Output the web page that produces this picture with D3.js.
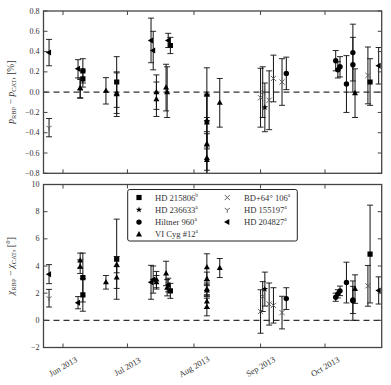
<!DOCTYPE html>
<html>
<head>
<meta charset="utf-8">
<script src="https://cdn.jsdelivr.net/npm/d3@7"></script>
<style>
  body { margin: 0; background: #fff; }
  svg text { font-family: "Liberation Serif", "DejaVu Serif", serif; fill: #333; }
</style>
</head>
<body>
<div id="chart"></div>
<script>
// rows: [date, dp, dp err, dchi, dchi err]
var hd215806 = [
    ["2013-06-10T06:00Z", 0.21, 0.12, 3.15, 1.8],
    ["2013-06-10T06:00Z", 0.13, 0.08, 1.87, 1.2],
    ["2013-06-26T00:00Z", 0.10, 0.25, 4.5, 2.95],
    ["2013-07-21T00:00Z", 0.46, 0.08, 2.17, 0.55],
    ["2013-10-22T00:00Z", 0.10, 0.23, 4.88, 3.6]
];
var hd236633 = [
    ["2013-09-03T00:00Z", -0.15, 0.24, 2.3, 1.25]
];
var hiltner960 = [
    ["2013-09-13T00:00Z", 0.185, 0.16, 1.6, 0.8],
    ["2013-10-06T00:00Z", 0.31, 0.10, 1.7, 0.3],
    ["2013-10-07T00:00Z", 0.22, 0.08, 1.95, 0.3],
    ["2013-10-08T00:00Z", 0.25, 0.10, 2.17, 0.35],
    ["2013-10-11T00:00Z", 0.08, 0.28, 2.78, 1.5],
    ["2013-10-14T00:00Z", 0.39, 0.28, 1.45, 1.45],
    ["2013-10-14T00:00Z", 0.27, 0.27, 1.5, 1.0]
];
var viCyg12 = [
    ["2013-06-09T00:00Z", 0.035, 0.09, 4.4, 0.55],
    ["2013-06-09T00:00Z", 0.04, 0.10, 3.95, 0.5],
    ["2013-06-21T00:00Z", 0.013, 0.13, 2.8, 0.5],
    ["2013-06-26T00:00Z", -0.02, 0.22, 4.1, 0.6],
    ["2013-06-26T00:00Z", -0.01, 0.20, 3.15, 0.8],
    ["2013-07-14T12:00Z", 0.0, 0.17, 3.0, 0.6],
    ["2013-07-14T12:00Z", -0.07, 0.17, 2.8, 0.5],
    ["2013-07-19T00:00Z", 0.045, 0.23, 3.45, 0.9],
    ["2013-07-19T12:00Z", 0.0, 0.25, 2.4, 0.6],
    ["2013-08-07T00:00Z", -0.02, 0.26, 3.9, 1.0],
    ["2013-08-07T00:00Z", -0.28, 0.26, 3.05, 0.5],
    ["2013-08-07T00:00Z", -0.30, 0.26, 2.3, 0.45],
    ["2013-08-07T00:00Z", -0.51, 0.26, 2.2, 0.45],
    ["2013-08-07T00:00Z", -0.65, 0.26, 1.38, 0.5],
    ["2013-08-07T00:00Z", -0.67, 0.26, 0.98, 0.65],
    ["2013-08-13T00:00Z", -0.105, 0.24, 3.85, 0.7],
    ["2013-10-15T00:00Z", -0.01, 0.24, 2.3, 1.05]
];
var bd64 = [
    ["2013-09-01T00:00Z", -0.055, 0.29, 0.65, 1.6],
    ["2013-09-02T00:00Z", 0.0, 0.25, 1.75, 1.1],
    ["2013-09-05T00:00Z", -0.08, 0.29, 1.2, 1.55],
    ["2013-09-07T00:00Z", 0.135, 0.23, 1.1, 1.3],
    ["2013-09-11T00:00Z", 0.10, 0.23, 0.57, 1.2],
    ["2013-10-21T00:00Z", 0.165, 0.28, 2.54, 1.5]
];
var hd155197 = [
    ["2013-05-25T12:00Z", -0.35, 0.09, 1.63, 0.65]
];
var hd204827 = [
    ["2013-05-25T12:00Z", 0.39, 0.13, 3.4, 0.7],
    ["2013-06-08T00:00Z", 0.23, 0.09, 1.3, 0.45],
    ["2013-07-12T00:00Z", 0.51, 0.22, 2.8, 1.25],
    ["2013-07-13T00:00Z", 0.41, 0.19, 3.0, 1.0],
    ["2013-07-20T00:00Z", 0.51, 0.07, 2.6, 0.5],
    ["2013-10-26T00:00Z", 0.26, 0.18, 2.2, 1.0]
];

var seriesNames = ["HD 215806", "HD 236633", "Hiltner 960", "VI Cyg #12",
                   "BD+64\u00b0 106", "HD 155197", "HD 204827"];
var seriesNotes = ["b", "a", "a", "a", "a", "a", "a"];
var seriesMarkers = ["square", "star", "circle", "triangle", "x", "tri_down", "left"];
var seriesRows = [hd215806, hd236633, hiltner960, viCyg12, bd64, hd155197, hd204827];

var dpTicks = [-0.8, -0.6, -0.4, -0.2, 0.0, 0.2, 0.4, 0.6, 0.8];
var dchiTicks = [-2, 0, 2, 4, 6, 8, 10];

var width = 391, height = 385;
var left = 43.5, right = 381.7;

var svg = d3.select("#chart").append("svg")
    .attr("width", width)
    .attr("height", height);

var x = d3.scaleUtc()
    .domain([new Date("2013-05-22T22:00Z"), new Date("2013-10-27T10:00Z")])
    .range([left, right]);
var monthTicks = d3.utcMonth.range(new Date("2013-06-01T00:00Z"), new Date("2013-10-02T00:00Z"));

var panels = [
    {top: 11, bottom: 173.3, domain: [-0.8, 0.8], ticks: dpTicks, fmt: d3.format(".1f"), col: 1, errCol: 2, name: "p"},
    {top: 184.5, bottom: 347.5, domain: [-2, 10], ticks: dchiTicks, fmt: d3.format("d"), col: 3, errCol: 4, name: "chi"}
];

var markerPath = function (kind) {
    switch (kind) {
        case "square": return "M-2.6,-2.6H2.6V2.6H-2.6Z";
        case "circle": return "M2.7,0A2.7,2.7 0 1,1 -2.7,0A2.7,2.7 0 1,1 2.7,0Z";
        case "triangle": return "M0,-3.3L3,2L-3,2Z";
        case "left": return "M-3.3,0L2,-3L2,3Z";
        case "star": return d3.symbol(d3.symbolStar, 13)();
        case "x": return "M-2.6,-2.6L2.6,2.6M-2.6,2.6L2.6,-2.6";
        case "tri_down": return "M0,0V3M0,0L-2.6,-1.6M0,0L2.6,-1.6";
    }
};
var isLineMarker = function (kind) { return kind === "x" || kind === "tri_down"; };

var drawMarker = function (g, kind, cx, cy) {
    var p = g.append("path")
        .attr("d", markerPath(kind))
        .attr("transform", "translate(" + cx + "," + cy + ")");
    if (isLineMarker(kind)) {
        p.attr("fill", "none").attr("stroke", "#555").attr("stroke-width", 0.9);
    } else {
        p.attr("fill", "#000");
    }
};

var minus = function (s) { return s.replace("-", "\u2212"); };

panels.forEach(function (pn, pi) {
    var y = d3.scaleLinear().domain(pn.domain).range([pn.bottom, pn.top]);
    var g = svg.append("g");

    g.append("clipPath").attr("id", "clip" + pi)
        .append("rect")
        .attr("x", left).attr("y", pn.top)
        .attr("width", right - left).attr("height", pn.bottom - pn.top);

    var plot = g.append("g").attr("clip-path", "url(#clip" + pi + ")");

    // zero line
    plot.append("line")
        .attr("x1", left).attr("x2", right)
        .attr("y1", y(0)).attr("y2", y(0))
        .attr("stroke", "#333")
        .attr("stroke-width", 1.2)
        .attr("stroke-dasharray", "6,4");

    seriesRows.forEach(function (rows, si) {
        var kind = seriesMarkers[si];
        rows.forEach(function (r) {
            var cx = x(new Date(r[0])),
                v = r[pn.col], e = r[pn.errCol];
            var y1 = y(v - e), y2 = y(v + e);
            plot.append("line")
                .attr("x1", cx).attr("x2", cx).attr("y1", y1).attr("y2", y2)
                .attr("stroke", "#111").attr("stroke-width", 1);
            [y1, y2].forEach(function (yy) {
                plot.append("line")
                    .attr("x1", cx - 3).attr("x2", cx + 3).attr("y1", yy).attr("y2", yy)
                    .attr("stroke", "#111").attr("stroke-width", 0.9);
            });
        });
        rows.forEach(function (r) {
            drawMarker(plot, kind, x(new Date(r[0])), y(r[pn.col]));
        });
    });

    // frame
    g.append("rect")
        .attr("x", left).attr("y", pn.top)
        .attr("width", right - left).attr("height", pn.bottom - pn.top)
        .attr("fill", "none").attr("stroke", "#444").attr("stroke-width", 1.3);

    // inward ticks
    pn.ticks.forEach(function (t) {
        g.append("line").attr("x1", left).attr("x2", left + 4)
            .attr("y1", y(t)).attr("y2", y(t)).attr("stroke", "#444");
        g.append("line").attr("x1", right - 4).attr("x2", right)
            .attr("y1", y(t)).attr("y2", y(t)).attr("stroke", "#444");
        g.append("text")
            .attr("x", left - 4).attr("y", y(t))
            .attr("text-anchor", "end")
            .attr("dominant-baseline", "central")
            .style("font-size", "8px")
            .text(minus(pn.fmt(t)));
    });
    monthTicks.forEach(function (m) {
        g.append("line").attr("x1", x(m)).attr("x2", x(m))
            .attr("y1", pn.top).attr("y2", pn.top + 4).attr("stroke", "#444");
        g.append("line").attr("x1", x(m)).attr("x2", x(m))
            .attr("y1", pn.bottom - 4).attr("y2", pn.bottom).attr("stroke", "#444");
    });

    // y label
    var mid = (pn.top + pn.bottom) / 2;
    var lab = g.append("text")
        .attr("transform", "translate(14," + mid + ") rotate(-90)")
        .attr("text-anchor", "middle")
        .style("font-size", "9.5px");
    var sym = pn.name === "p" ? "p" : "\u03c7";
    lab.append("tspan").style("font-style", "italic").text(sym);
    lab.append("tspan").attr("dy", 2).style("font-size", "6.5px").text("RBP");
    lab.append("tspan").attr("dy", -2).text(" \u2212 ");
    lab.append("tspan").style("font-style", "italic").text(sym);
    lab.append("tspan").attr("dy", 2).style("font-size", "6.5px").text("CAT");
    lab.append("tspan").attr("dy", -2).text(pn.name === "p" ? ", [%]" : ", [\u00b0]");
});

// rotated month labels under the lower panel
monthTicks.forEach(function (m) {
    svg.append("text")
        .attr("transform", "translate(" + x(m) + ",366.5) rotate(-30)")
        .attr("text-anchor", "middle")
        .attr("dominant-baseline", "central")
        .style("font-size", "8.5px")
        .text(d3.utcFormat("%b %Y")(m));
});

// legend
var leg = svg.append("g");
leg.append("rect")
    .attr("x", 127.7).attr("y", 189.5)
    .attr("width", 169.6).attr("height", 51.5)
    .attr("rx", 2)
    .attr("fill", "#fff").attr("stroke", "#222").attr("stroke-width", 1);

seriesNames.forEach(function (name, i) {
    var col = i < 4 ? 0 : 1,
        row = i < 4 ? i : i - 4;
    var mx = col === 0 ? 139 : 227.3,
        tx = col === 0 ? 155 : 244,
        ty = 197.5 + row * 12.3;
    drawMarker(leg, seriesMarkers[i], mx, ty);
    var t = leg.append("text")
        .attr("x", tx).attr("y", ty)
        .attr("dominant-baseline", "central")
        .style("font-size", "8.6px")
        .text(name);
    t.append("tspan").attr("dy", -3).style("font-size", "5.5px").text(seriesNotes[i]);
});
</script>
</body>
</html>
